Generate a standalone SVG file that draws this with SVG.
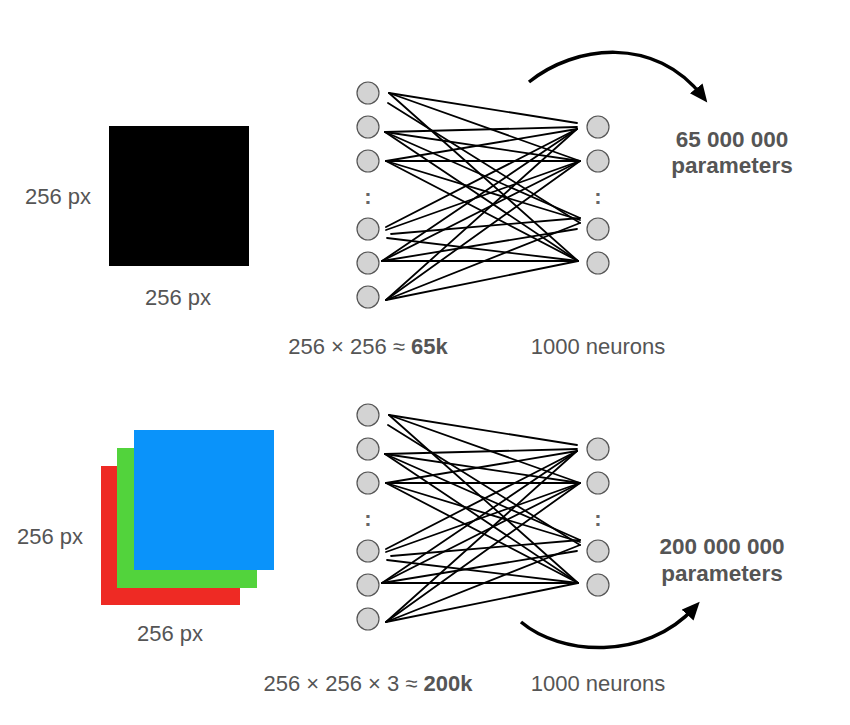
<svg xmlns="http://www.w3.org/2000/svg" width="850" height="725" viewBox="0 0 850 725">
<style>
  .lbl { font-family: "Liberation Sans", Arial, sans-serif; font-size: 22px; fill: #555; }
  .big { font-family: "Liberation Sans", Arial, sans-serif; font-size: 22.5px; font-weight: bold; fill: #555; text-anchor: middle; }
  .mid { text-anchor: middle; }
  .b { font-weight: bold; }
  .neuron { fill: #d3d3d3; stroke: #555; stroke-width: 1.2; }
  .edge { stroke: #000; stroke-width: 1.8; fill: none; stroke-linecap: round; }
  .arc { stroke: #000; stroke-width: 3.5; fill: none; }
  .dots { font-family: "Liberation Sans", Arial, sans-serif; font-size: 22px; font-weight: bold; fill: #666; text-anchor: middle; }
</style>
<defs>
  <marker id="head" markerUnits="userSpaceOnUse" markerWidth="20" markerHeight="20" refX="11" refY="8" orient="auto">
    <path d="M0,0 L18,8 L0,16 Z" fill="#000"/>
  </marker>
</defs>
<rect width="850" height="725" fill="#fff"/>

<!-- Top image -->
<g id="img-gray">
  <rect x="109" y="126" width="140" height="140" fill="#000"/>
</g>
<g id="img-top-labels">
  <text class="lbl mid" x="58" y="204">256 px</text>
  <text class="lbl mid" x="178" y="305">256 px</text>
</g>

<!-- Bottom image -->
<g id="img-rgb">
  <rect x="101" y="466" width="139" height="139" fill="#ee2a24"/>
  <rect x="117" y="448" width="140" height="140" fill="#52d33c"/>
  <rect x="134" y="430" width="140" height="140" fill="#0a93fa"/>
</g>
<g id="img-bottom-labels">
  <text class="lbl mid" x="50" y="544">256 px</text>
  <text class="lbl mid" x="170" y="641">256 px</text>
</g>

<!-- Connectors -->
<g id="connectors">
  <g id="edges-top">
    <line class="edge" x1="389" y1="93" x2="577" y2="123"/>
    <line class="edge" x1="389" y1="93" x2="580" y2="161"/>
    <line class="edge" x1="388" y1="103" x2="580" y2="223"/>
    <line class="edge" x1="389" y1="93" x2="578" y2="261"/>
    <line class="edge" x1="385" y1="132" x2="577" y2="127"/>
    <line class="edge" x1="385" y1="132" x2="580" y2="161"/>
    <line class="edge" x1="385" y1="132" x2="580" y2="218"/>
    <line class="edge" x1="385" y1="132" x2="578" y2="261"/>
    <line class="edge" x1="386" y1="161" x2="577" y2="129"/>
    <line class="edge" x1="386" y1="161" x2="580" y2="161"/>
    <line class="edge" x1="386" y1="161" x2="580" y2="220"/>
    <line class="edge" x1="386" y1="161" x2="578" y2="261"/>
    <line class="edge" x1="386" y1="227" x2="577" y2="129"/>
    <line class="edge" x1="386" y1="230" x2="580" y2="161"/>
    <line class="edge" x1="391" y1="234" x2="580" y2="218"/>
    <line class="edge" x1="387" y1="238" x2="578" y2="261"/>
    <line class="edge" x1="382" y1="261" x2="577" y2="129"/>
    <line class="edge" x1="382" y1="261" x2="580" y2="161"/>
    <line class="edge" x1="382" y1="261" x2="577" y2="229"/>
    <line class="edge" x1="382" y1="261" x2="578" y2="261"/>
    <line class="edge" x1="386" y1="300" x2="577" y2="129"/>
    <line class="edge" x1="386" y1="300" x2="580" y2="161"/>
    <line class="edge" x1="386" y1="300" x2="580" y2="223"/>
    <line class="edge" x1="386" y1="300" x2="578" y2="261"/>
  </g>
  <g id="edges-bottom" transform="translate(0,322)">
    <line class="edge" x1="389" y1="93" x2="577" y2="123"/>
    <line class="edge" x1="389" y1="93" x2="580" y2="161"/>
    <line class="edge" x1="388" y1="103" x2="580" y2="223"/>
    <line class="edge" x1="389" y1="93" x2="578" y2="261"/>
    <line class="edge" x1="385" y1="132" x2="577" y2="127"/>
    <line class="edge" x1="385" y1="132" x2="580" y2="161"/>
    <line class="edge" x1="385" y1="132" x2="580" y2="218"/>
    <line class="edge" x1="385" y1="132" x2="578" y2="261"/>
    <line class="edge" x1="386" y1="161" x2="577" y2="129"/>
    <line class="edge" x1="386" y1="161" x2="580" y2="161"/>
    <line class="edge" x1="386" y1="161" x2="580" y2="220"/>
    <line class="edge" x1="386" y1="161" x2="578" y2="261"/>
    <line class="edge" x1="386" y1="227" x2="577" y2="129"/>
    <line class="edge" x1="386" y1="230" x2="580" y2="161"/>
    <line class="edge" x1="391" y1="234" x2="580" y2="218"/>
    <line class="edge" x1="387" y1="238" x2="578" y2="261"/>
    <line class="edge" x1="382" y1="261" x2="577" y2="129"/>
    <line class="edge" x1="382" y1="261" x2="580" y2="161"/>
    <line class="edge" x1="382" y1="261" x2="577" y2="229"/>
    <line class="edge" x1="382" y1="261" x2="578" y2="261"/>
    <line class="edge" x1="386" y1="300" x2="577" y2="129"/>
    <line class="edge" x1="386" y1="300" x2="580" y2="161"/>
    <line class="edge" x1="386" y1="300" x2="580" y2="223"/>
    <line class="edge" x1="386" y1="300" x2="578" y2="261"/>
  </g>
  <path id="arrow-top" class="arc" d="M529,82 C575,45 655,35 703,97" marker-end="url(#head)"/>
  <path id="arrow-bottom" class="arc" d="M521,622 C560,655 645,662 695,607" marker-end="url(#head)"/>
</g>

<!-- Top network nodes -->
<g id="top-in-1"><circle class="neuron" cx="368" cy="93" r="11"/></g>
<g id="top-in-2"><circle class="neuron" cx="368" cy="127" r="11"/></g>
<g id="top-in-3"><circle class="neuron" cx="368" cy="161" r="11"/></g>
<g id="top-in-dots"><text class="dots" x="368" y="204">:</text></g>
<g id="top-in-4"><circle class="neuron" cx="368" cy="229" r="11"/></g>
<g id="top-in-5"><circle class="neuron" cx="368" cy="263" r="11"/></g>
<g id="top-in-6"><circle class="neuron" cx="368" cy="297" r="11"/></g>
<g id="top-out-1"><circle class="neuron" cx="598" cy="127" r="11"/></g>
<g id="top-out-2"><circle class="neuron" cx="598" cy="161" r="11"/></g>
<g id="top-out-dots"><text class="dots" x="598" y="204">:</text></g>
<g id="top-out-3"><circle class="neuron" cx="598" cy="229" r="11"/></g>
<g id="top-out-4"><circle class="neuron" cx="598" cy="263" r="11"/></g>

<!-- Bottom network nodes -->
<g id="bot-in-1"><circle class="neuron" cx="368" cy="415" r="11"/></g>
<g id="bot-in-2"><circle class="neuron" cx="368" cy="449" r="11"/></g>
<g id="bot-in-3"><circle class="neuron" cx="368" cy="483" r="11"/></g>
<g id="bot-in-dots"><text class="dots" x="368" y="526">:</text></g>
<g id="bot-in-4"><circle class="neuron" cx="368" cy="551" r="11"/></g>
<g id="bot-in-5"><circle class="neuron" cx="368" cy="585" r="11"/></g>
<g id="bot-in-6"><circle class="neuron" cx="368" cy="619" r="11"/></g>
<g id="bot-out-1"><circle class="neuron" cx="598" cy="449" r="11"/></g>
<g id="bot-out-2"><circle class="neuron" cx="598" cy="483" r="11"/></g>
<g id="bot-out-dots"><text class="dots" x="598" y="526">:</text></g>
<g id="bot-out-3"><circle class="neuron" cx="598" cy="551" r="11"/></g>
<g id="bot-out-4"><circle class="neuron" cx="598" cy="585" r="11"/></g>

<!-- Captions -->
<g id="top-input-caption"><text class="lbl mid" x="368" y="354">256 × 256 ≈ <tspan class="b">65k</tspan></text></g>
<g id="top-output-caption"><text class="lbl mid" x="598" y="354">1000 neurons</text></g>
<g id="bot-input-caption"><text class="lbl mid" x="368" y="691">256 × 256 × 3 ≈ <tspan class="b">200k</tspan></text></g>
<g id="bot-output-caption"><text class="lbl mid" x="598" y="691">1000 neurons</text></g>

<g id="top-params">
  <text class="big" x="732" y="146.5">65 000 000</text>
  <text class="big" x="732" y="173">parameters</text>
</g>
<g id="bot-params">
  <text class="big" x="722" y="554">200 000 000</text>
  <text class="big" x="722" y="580.5">parameters</text>
</g>
</svg>
